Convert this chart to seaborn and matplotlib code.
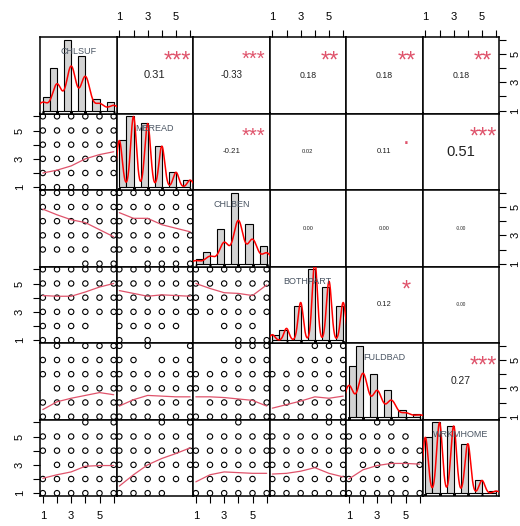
import numpy as np
import pandas as pd
import matplotlib
matplotlib.use("Agg")
import matplotlib.pyplot as plt
import seaborn as sns

sns.set_style("white")
plt.rcParams['font.family'] = ['Liberation Sans', 'DejaVu Sans']

variables = ['CHLSUF', 'MEREAD', 'CHLBEN', 'BOTHPART', 'FULDBAD', 'WRKMHOME']
levels = [1, 2, 3, 4, 5, 6]

# answer counts per level
chlsuf_counts = [19, 60, 100, 77, 16, 12]
meread_counts = [66, 100, 90, 58, 21, 10]
chlben_counts = [7, 17, 49, 100, 56, 25]
bothpart_counts = [7, 15, 48, 100, 75, 48]
fuldbad_counts = [72, 100, 60, 38, 9, 4]
wrkmhome_counts = [79, 100, 95, 70, 18, 3]
all_counts = [chlsuf_counts, meread_counts, chlben_counts,
              bothpart_counts, fuldbad_counts, wrkmhome_counts]

# bandwidth of the red density curves
kde_bw = [0.32, 0.2, 0.33, 0.18, 0.33, 0.2]

# upper triangle, row by row
cor_r = [0.31, -0.33, 0.18, 0.18, 0.18,
         -0.21, 0.02, 0.11, 0.51,
         0.00, 0.00, -0.00,
         0.12, -0.00,
         0.27]
cor_labels = ['0.31', '-0.33', '0.18', '0.18', '0.18',
              '-0.21', '0.02', '0.11', '0.51',
              '0.00', '0.00', '-0.00',
              '0.12', '-0.00',
              '0.27']
cor_stars = ['***', '***', '**', '**', '**',
             '***', '', '.', '***',
             '', '', '',
             '*', '',
             '***']

# lower triangle, row by row: smoother value at x = 1..6
smooth_fit = [
    [2.0, 2.2, 2.5, 3.0, 3.3, 3.5],
    [4.85, 4.45, 4.1, 3.9, 3.4, 2.9],
    [4.6, 4.2, 4.2, 3.75, 3.5, 3.25],
    [4.15, 4.1, 4.1, 4.4, 4.75, 5.0],
    [4.5, 4.3, 4.1, 4.2, 4.15, 4.1],
    [5.0, 4.65, 4.35, 4.3, 4.15, 4.9],
    [1.5, 2.05, 2.3, 2.5, 2.7, 2.55],
    [1.75, 2.2, 2.5, 2.45, 2.4, 2.4],
    [2.4, 2.4, 2.35, 2.25, 2.15, 1.75],
    [1.6, 1.85, 2.1, 2.4, 2.3, 2.45],
    [2.05, 2.3, 2.5, 2.9, 2.95, 2.95],
    [1.5, 2.3, 3.0, 3.45, 3.8, 4.2],
    [1.8, 2.3, 2.5, 2.45, 2.4, 2.4],
    [2.35, 2.4, 2.55, 2.8, 2.4, 2.15],
    [2.0, 2.65, 2.95, 3.1, 3.1, 3.05],
]

# lower triangle, row by row: (x, y) combinations that never occur
missing_pts = [
    [(5, 1), (6, 1)],
    [(1, 1), (2, 1), (3, 1), (5, 2)],
    [(1, 1), (2, 1)],
    [(5, 2), (6, 2), (4, 1), (5, 1), (6, 1)],
    [(6, 2), (2, 1), (4, 1), (5, 1), (6, 1)],
    [(1, 2), (2, 2), (6, 2), (1, 1), (2, 1), (3, 1)],
    [(1, 6), (3, 6), (1, 3)],
    [(2, 6), (4, 6), (5, 6), (3, 5)],
    [(1, 6), (2, 6), (3, 6), (1, 5), (2, 5), (1, 2)],
    [(1, 6), (2, 6), (3, 6), (1, 5), (2, 5), (1, 3), (1, 2)],
    [(1, 6), (2, 6), (3, 6), (5, 6), (1, 3)],
    [(1, 6), (2, 6), (3, 6), (5, 6), (5, 1), (6, 1)],
    [(1, 6), (2, 6), (3, 6), (5, 6), (6, 6), (1, 5), (1, 2), (6, 2)],
    [(1, 6), (2, 6), (3, 6), (4, 6)],
    [(1, 6), (2, 6), (5, 6), (6, 6), (6, 5), (1, 3), (6, 2)],
]

W, H = 520, 526
x0, y0, cell = 40, 37, 76.5
lim = (0.8, 6.2)
smooth_col = '#DF536B'

fig = plt.figure(figsize=(W / 100, H / 100), dpi=100)
renderer = fig.canvas.get_renderer()


def panel(i, j):
    return fig.add_axes([(x0 + j * cell) / W, 1 - (y0 + (i + 1) * cell) / H,
                         cell / W, cell / H])


def fit_text(ax, x, y, s, width_px, **kw):
    t = ax.text(x, y, s, transform=ax.transAxes, fontsize=10, **kw)
    w = t.get_window_extent(renderer).width
    fs = 10 * width_px / w
    t.set_fontsize(fs)
    return fs


def gauss_density(counts, bw):
    # gaussian kernel density of the level counts, like R's density()
    lv = np.array(levels, dtype=float)
    p = np.array(counts, dtype=float) / sum(counts)
    grid = np.linspace(lv.min() - 3 * bw, lv.max() + 3 * bw, 512)
    z = (grid[:, None] - lv[None, :]) / bw
    dens = (np.exp(-0.5 * z ** 2) * p).sum(axis=1) / (bw * np.sqrt(2 * np.pi))
    return grid, dens


def tidy(ax):
    for sp in ax.spines.values():
        sp.set_color('black')
        sp.set_linewidth(1.1)
    ax.set_xlabel('')
    ax.set_ylabel('')
    ax.set_xticks([])
    ax.set_yticks([])


axes = [[None] * 6 for _ in range(6)]

# off-diagonal panels first
up_k = 0
low_k = 0
for i in range(6):
    for j in range(6):
        if i == j:
            continue
        ax = panel(i, j)
        axes[i][j] = ax
        ax.set_zorder(1)
        if i < j:
            ax.set_xlim(*lim)
            ax.set_ylim(*lim)
            r = cor_r[up_k]
            width = 0.6 * cell * (abs(r) + 0.3) / 1.3
            fs = fit_text(ax, 0.5, 0.5, cor_labels[up_k], width,
                          ha='center', va='center', color='#222222')
            if cor_stars[up_k]:
                star_fs = fs * 1.3 / (abs(r) + 0.3)
                star_px = star_fs * 100 / 72
                ax.text(0.79, 0.78 - 0.56 * star_px / cell, cor_stars[up_k],
                        transform=ax.transAxes, ha='center', va='baseline',
                        fontsize=star_fs, color=smooth_col)
            up_k += 1
        else:
            miss = missing_pts[low_k]
            pts = [(x, y) for y in levels for x in levels if (x, y) not in miss]
            df = pd.DataFrame(pts, columns=['x', 'y'])
            sns.scatterplot(data=df, x='x', y='y', ax=ax, marker='o', s=15,
                            facecolor='none', edgecolor='black', linewidth=0.8,
                            legend=False)
            sns.lineplot(x=levels, y=smooth_fit[low_k], color=smooth_col,
                         linewidth=0.9, ax=ax)
            ax.set_xlim(*lim)
            ax.set_ylim(*lim)
            low_k += 1
        tidy(ax)

# diagonal histograms last, on top of everything else
for i in range(6):
    ax = panel(i, i)
    axes[i][i] = ax
    ax.set_zorder(5)
    data = np.repeat(levels, all_counts[i])
    edges = np.arange(1, 6.01, 0.5)
    edges[1:] += 1e-9
    sns.histplot(x=data, bins=edges, stat='density', color='#D3D3D3',
                 edgecolor='black', linewidth=0.8, alpha=1, ax=ax)
    ymax = max(p.get_height() for p in ax.patches)
    grid, dens = gauss_density(all_counts[i], kde_bw[i])
    ax.plot(grid, dens, color='red', linewidth=1.1, zorder=6)
    sns.rugplot(x=data, height=0.03, color='black', linewidth=0.8, ax=ax)
    ax.set_ylim(-0.04 * ymax, 1.04 * ymax)
    ax.set_xlim(*lim)
    ax.text(0.5, 0.81, variables[i], transform=ax.transAxes,
            ha='center', va='center', fontsize=6.5, color='#4a5563', zorder=10)
    tidy(ax)

tick_labels = ['1', '', '3', '', '5', '']
tick_kw = dict(direction='out', length=5, width=0.8, colors='black',
               labelsize=8)

for j in (1, 3, 5):
    ax = axes[0][j]
    ax.xaxis.set_ticks_position('top')
    ax.set_xticks(levels)
    ax.set_xticklabels(tick_labels)
    ax.tick_params(axis='x', top=True, bottom=False, pad=6, **tick_kw)
for j in (0, 2, 4):
    ax = axes[5][j]
    ax.set_xticks(levels)
    ax.set_xticklabels(tick_labels)
    ax.tick_params(axis='x', bottom=True, pad=6, **tick_kw)
for i in (1, 3, 5):
    ax = axes[i][0]
    ax.set_yticks(levels)
    ax.set_yticklabels(tick_labels, rotation=90, va='center')
    ax.tick_params(axis='y', left=True, pad=6, **tick_kw)
for i in (0, 2, 4):
    ax = axes[i][5]
    ax.yaxis.set_ticks_position('right')
    ax.set_yticks(levels)
    ax.set_yticklabels(tick_labels, rotation=90, va='center')
    ax.tick_params(axis='y', right=True, left=False, pad=3, **tick_kw)

fig.savefig('out.png', dpi=100)
